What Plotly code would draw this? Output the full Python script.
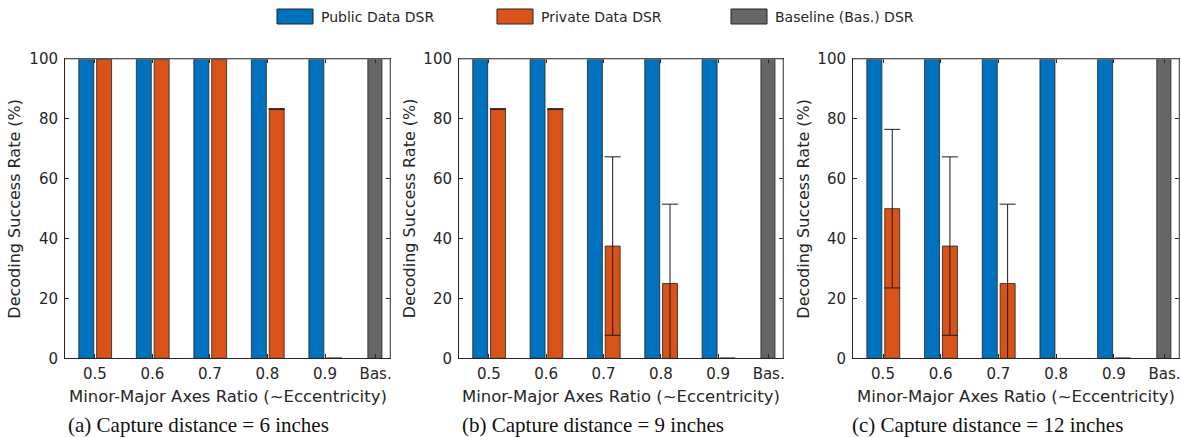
import plotly.graph_objects as go

# ---------------- data ----------------
ratio_labels = ["0.5", "0.6", "0.7", "0.8", "0.9"]
ratio_pos = [0.5, 0.6, 0.7, 0.8, 0.9]
baseline_label = "Bas."
baseline_pos = 0.988

public_a = [100, 100, 100, 100, 100]
private_a = [100, 100, 100, 83.3, 0]
private_err_a = [0, 0, 0, 0, 0]

public_b = [100, 100, 100, 100, 100]
private_b = [83.3, 83.3, 37.5, 25, 0]
private_err_b = [0, 0, 29.8, 26.5, 0]

public_c = [100, 100, 100, 100, 100]
private_c = [50, 37.5, 25, None, 0]
private_err_c = [26.5, 29.8, 26.5, None, 0]

baseline_dsr = [100, 100, 100]

captions = ["(a) Capture distance = 6 inches",
            "(b) Capture distance = 9 inches",
            "(c) Capture distance = 12 inches"]
legend_names = ["Public Data DSR", "Private Data DSR", "Baseline (Bas.) DSR"]

# ---------------- style ----------------
W, H = 1181, 438
BLUE, ORANGE, GRAY = "#0072BD", "#D95319", "#666666"
EDGE = "#222222"
AXC = "#262626"
SANS = "DejaVu Sans"
SERIF = "Liberation Serif"

panels_px = [(65, 390), (459, 783), (853, 1179)]
top_px, bot_px = 59, 358.3
ylabel_x = [15, 409.5, 804]
caption_x = [198.5, 592.5, 987.5]


def px(x):
    return x / W


def py(y):
    return 1 - y / H


fig = go.Figure()
bw = 0.026
datasets = [(public_a, private_a, private_err_a),
            (public_b, private_b, private_err_b),
            (public_c, private_c, private_err_c)]

for i, (pub, priv, err) in enumerate(datasets):
    xa = "x" if i == 0 else f"x{i+1}"
    ya = "y" if i == 0 else f"y{i+1}"
    fig.add_trace(go.Bar(x=ratio_pos, y=pub, offset=-0.028, width=bw,
                         marker=dict(color=BLUE, line=dict(color=EDGE, width=0.8)),
                         xaxis=xa, yaxis=ya, showlegend=False))
    fig.add_trace(go.Bar(x=ratio_pos, y=priv, offset=0.003, width=bw,
                         marker=dict(color=ORANGE, line=dict(color=EDGE, width=0.8)),
                         error_y=dict(type="data", array=err, visible=True,
                                      color="#1a1a1a", thickness=1, width=8),
                         xaxis=xa, yaxis=ya, showlegend=False))
    fig.add_trace(go.Bar(x=[baseline_pos], y=[baseline_dsr[i]], offset=-0.0135, width=0.0245,
                         marker=dict(color=GRAY, line=dict(color=EDGE, width=0.8)),
                         xaxis=xa, yaxis=ya, showlegend=False))

layout = dict(width=W, height=H, margin=dict(l=0, r=0, t=0, b=0, autoexpand=False),
              paper_bgcolor="white", plot_bgcolor="white",
              barmode="overlay", showlegend=False,
              font=dict(family=SANS, color=AXC))

annotations = []
shapes = []
for i, (l, r) in enumerate(panels_px):
    xk = "xaxis" if i == 0 else f"xaxis{i+1}"
    yk = "yaxis" if i == 0 else f"yaxis{i+1}"
    xref = "x" if i == 0 else f"x{i+1}"
    yref = "y" if i == 0 else f"y{i+1}"
    layout[xk] = dict(domain=[px(l), px(r)], range=[0.448, 1.013],
                      tickvals=ratio_pos + [baseline_pos],
                      ticktext=ratio_labels + [baseline_label],
                      ticks="inside", ticklen=4, tickcolor=AXC,
                      showline=True, linecolor=AXC, linewidth=1, mirror="ticks",
                      showgrid=False, zeroline=False, automargin=False,
                      ticklabelstandoff=2,
                      tickfont=dict(family=SANS, size=15, color=AXC),
                      anchor=yref)
    layout[yk] = dict(domain=[py(bot_px), py(top_px)], range=[0, 100],
                      tickvals=[0, 20, 40, 60, 80, 100],
                      ticks="inside", ticklen=4, tickcolor=AXC,
                      showline=True, linecolor=AXC, linewidth=1, mirror="ticks",
                      showgrid=False, zeroline=False, automargin=False,
                      ticklabelstandoff=3,
                      tickfont=dict(family=SANS, size=15, color=AXC),
                      anchor=xref)
    # lighter top / right box edges (as in the reference rendering)
    shapes.append(dict(type="line", xref=f"{xref} domain", yref=f"{yref} domain",
                       x0=0, x1=1, y0=1, y1=1, line=dict(color="#8a8a8a", width=1), layer="above"))
    shapes.append(dict(type="line", xref=f"{xref} domain", yref=f"{yref} domain",
                       x0=1, x1=1, y0=0, y1=1, line=dict(color="#9a9a9a", width=1), layer="above"))
    # axis titles
    annotations.append(dict(x=px((l + r) / 2), y=py(396), xref="paper", yref="paper",
                            text="Minor-Major Axes Ratio (~Eccentricity)", showarrow=False,
                            font=dict(family=SANS, size=16.5, color=AXC),
                            xanchor="center", yanchor="middle"))
    annotations.append(dict(x=px(ylabel_x[i]), y=py((top_px + bot_px) / 2), xref="paper", yref="paper",
                            text="Decoding Success Rate (%)", showarrow=False, textangle=-90,
                            font=dict(family=SANS, size=16, color=AXC),
                            xanchor="center", yanchor="middle"))
    annotations.append(dict(x=px(caption_x[i]), y=py(425), xref="paper", yref="paper",
                            text=captions[i], showarrow=False,
                            font=dict(family=SERIF, size=21, color="#111111"),
                            xanchor="center", yanchor="middle"))

# legend (drawn manually to get MATLAB-like wide patches)
legend_boxes = [(277, 313), (497, 533), (731, 767)]
legend_cols = [BLUE, ORANGE, GRAY]
for (x0, x1), col, name in zip(legend_boxes, legend_cols, legend_names):
    shapes.append(dict(type="rect", xref="paper", yref="paper",
                       x0=px(x0), x1=px(x1), y0=py(24), y1=py(9),
                       fillcolor=col, line=dict(color=EDGE, width=1)))
    annotations.append(dict(x=px(x1 + 6), y=py(16.5), xref="paper", yref="paper",
                            text=name, showarrow=False,
                            font=dict(family=SANS, size=14, color=AXC),
                            xanchor="left", yanchor="middle"))

layout["annotations"] = annotations
layout["shapes"] = shapes
fig.update_layout(**layout)
fig.write_html("out.html")
